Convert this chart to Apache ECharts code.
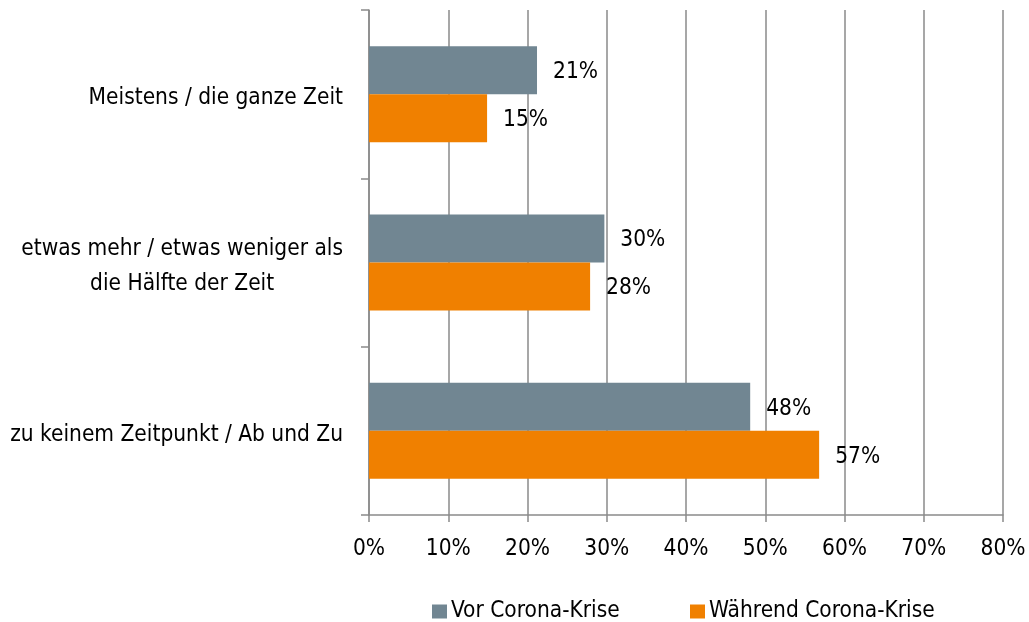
<!DOCTYPE html>
<html>
<head>
<meta charset="utf-8">
<script src="https://cdn.jsdelivr.net/npm/echarts@6/dist/echarts.min.js"></script>
<style>
html,body{margin:0;padding:0;background:#fff;}
#chart{width:1029px;height:622px;}
</style>
</head>
<body>
<div id="chart"></div>
<script>
const categories = [
  'Meistens / die ganze Zeit',
  'etwas mehr / etwas weniger als\ndie Hälfte der Zeit',
  'zu keinem Zeitpunkt / Ab und Zu'
];
const seriesNames = ['Vor Corona-Krise', 'Während Corona-Krise'];
const vorValues = [21.2, 29.7, 48.1];
const waehrendValues = [14.9, 27.9, 56.8];
const xTicks = { min: 0, max: 80, interval: 10 };

const FONT = "'Liberation Sans Narrow', 'DejaVu Sans Condensed', 'Liberation Sans', sans-serif";
const FS = 22.5;
const GRAY = '#718692';
const ORANGE = '#F08000';
const LINE = '#8a8a8a';

const chart = echarts.init(document.getElementById('chart'), null, { renderer: 'canvas' });

const labelCfg = {
  show: true,
  position: 'right',
  distance: 16,
  offset: [0, 2],
  color: '#000',
  fontFamily: FONT,
  fontSize: FS,
  formatter: p => Math.round(p.value) + '%'
};

const legendText = { fontFamily: FONT, fontSize: FS, color: '#000', padding: [0, 0, 0, -1] };

chart.setOption({
  backgroundColor: '#fff',
  animation: false,
  grid: { left: 369, right: 26, top: 10, bottom: 107, containLabel: false },
  legend: [
    {
      top: 600, left: 432, padding: 0,
      itemWidth: 15, itemHeight: 14, icon: 'rect',
      textStyle: legendText,
      data: [seriesNames[0]]
    },
    {
      top: 600, left: 690, padding: 0,
      itemWidth: 15, itemHeight: 14, icon: 'rect',
      textStyle: legendText,
      data: [seriesNames[1]]
    }
  ],
  xAxis: {
    type: 'value',
    min: xTicks.min,
    max: xTicks.max,
    interval: xTicks.interval,
    axisLine: { show: true, lineStyle: { color: LINE, width: 1.5 } },
    axisTick: { show: true, length: 7, lineStyle: { color: LINE, width: 1.5 } },
    splitLine: { show: true, lineStyle: { color: LINE, width: 1.5 } },
    axisLabel: {
      formatter: '{value}%',
      margin: 23,
      color: '#000',
      fontFamily: FONT,
      fontSize: FS
    }
  },
  yAxis: {
    type: 'category',
    inverse: true,
    data: categories,
    axisLine: { show: true, lineStyle: { color: LINE, width: 1.5 } },
    axisTick: { show: true, length: 8, lineStyle: { color: LINE, width: 1.5 } },
    splitLine: { show: false },
    axisLabel: {
      margin: 26,
      color: '#000',
      fontFamily: FONT,
      fontSize: FS,
      lineHeight: 35,
      padding: [8, 0, 0, 0],
      formatter: v => v.split('\n').map(s => '{c|' + s + '}').join('\n'),
      rich: {
        c: { align: 'center', fontFamily: FONT, fontSize: FS, lineHeight: 35, color: '#000' }
      }
    }
  },
  series: [
    {
      name: seriesNames[0],
      type: 'bar',
      data: vorValues,
      barWidth: 48,
      barGap: '0%',
      itemStyle: { color: GRAY },
      label: labelCfg
    },
    {
      name: seriesNames[1],
      type: 'bar',
      data: waehrendValues,
      barWidth: 48,
      barGap: '0%',
      itemStyle: { color: ORANGE },
      label: labelCfg
    }
  ]
});
</script>
</body>
</html>
